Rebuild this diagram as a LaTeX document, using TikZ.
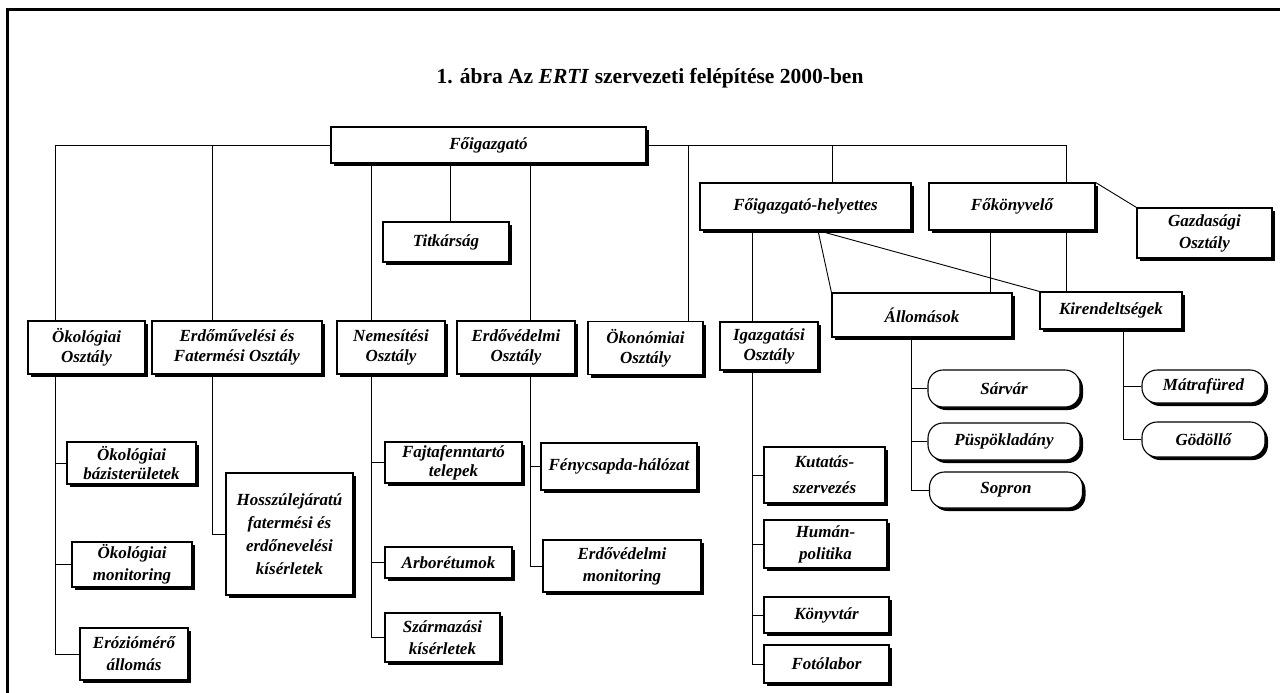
\documentclass[tikz,border=0pt]{standalone}
\usepackage{fontspec}
\setmainfont{Liberation Serif}
\usetikzlibrary{shadows}
\pgfdeclarelayer{hatter}
\pgfsetlayers{hatter,main}

\begin{document}
\begin{tikzpicture}[x=1pt, y=-1pt,
	doboz/.style={draw, fill=white, line width=1.1pt, align=center, inner sep=0pt,
		font=\bfseries\itshape\fontsize{17}{22}\selectfont,
		drop shadow={shadow xshift=3pt, shadow yshift=-3pt, fill=black, opacity=1}},
	szuk/.style={font=\bfseries\itshape\fontsize{17}{19}\selectfont},
	osztaly/.style={doboz, minimum height=53, font=\bfseries\itshape\fontsize{17}{20}\selectfont},
	kapszula/.style={doboz, rounded corners=15pt},
	vonal/.style={line width=0.9pt}
	]
	\useasboundingbox (0,0) rectangle (1280,693);
	\begin{scope}
		\clip (0,0) rectangle (1280,693);
		\draw[line width=3pt] (7,710) -- (7,10) -- (1300,10);
	\end{scope}

	\node (cim) at (650,78) {\fontsize{21.5}{24}\selectfont\bfseries 1. ábra Az \textit{ERTI} szervezeti felépítése 2000-ben};

	%Vezetés
	\node[doboz, minimum width=315, minimum height=36] (fo) at (488.5,145) {Főigazgató};
	\node[doboz, minimum width=126, minimum height=40] (titk) at (446,242) {Titkárság};
	\node[doboz, minimum width=211, minimum height=47] (fh) at (805.5,206.5) {Főigazgató-helyettes};
	\node[doboz, minimum width=166, minimum height=47] (fk) at (1012,206.5) {Főkönyvelő};
	\node[doboz, minimum width=135, minimum height=50] (gazd) at (1204.5,233) {Gazdasági\\Osztály};

	%Osztályok
	\node[osztaly, minimum width=117] (okol) at (86.5,347.5) {Ökológiai\\Osztály};
	\node[osztaly, minimum width=170] (erdm) at (237,347.5) {Erdőművelési és\\Fatermési Osztály};
	\node[osztaly, minimum width=108] (nem) at (391,347.5) {Nemesítési\\Osztály};
	\node[osztaly, minimum width=118] (erdv) at (516,347.5) {Erdővédelmi\\Osztály};
	\node[osztaly, minimum width=115] (okon) at (645.5,348) {Ökonómiai\\Osztály};
	\node[osztaly, minimum width=98, minimum height=48] (igaz) at (769,346) {Igazgatási\\Osztály};
	\node[doboz, minimum width=180, minimum height=44] (allo) at (922,315) {Állomások};
	\node[doboz, minimum width=142, minimum height=37] (kir) at (1111,310.5) {Kirendeltségek};

	%Alegységek
	\node[doboz, szuk, minimum width=129, minimum height=42] (okb) at (131.5,463) {Ökológiai\\bázisterületek};
	\node[doboz, minimum width=120, minimum height=45] (okm) at (132,564.5) {Ökológiai\\monitoring};
	\node[doboz, minimum width=108, minimum height=52] (eroz) at (134,654) {Eróziómérő\\állomás};
	\node[doboz, minimum width=127, minimum height=122, font=\bfseries\itshape\fontsize{17}{23}\selectfont] (hossz) at (289.5,534) {Hosszúlejáratú\\fatermési és\\erdőnevelési\\kísérletek};
	\node[doboz, szuk, minimum width=137, minimum height=41] (fajta) at (453.5,462.5) {Fajtafenntartó\\telepek};
	\node[doboz, minimum width=127, minimum height=31] (arbo) at (448.5,562.5) {Arborétumok};
	\node[doboz, minimum width=115, minimum height=49] (szarm) at (442.5,637.5) {Származási\\kísérletek};
	\node[doboz, minimum width=156, minimum height=47] (feny) at (619,466.5) {Fénycsapda-hálózat};
	\node[doboz, minimum width=158, minimum height=52] (edvm) at (622,566) {Erdővédelmi\\monitoring};
	\node[doboz, minimum width=121, minimum height=56, font=\bfseries\itshape\fontsize{17}{26}\selectfont] (kut) at (824.5,475) {Kutatás-\\szervezés};
	\node[doboz, minimum width=123, minimum height=48] (hum) at (825.5,544) {Humán-\\politika};
	\node[doboz, minimum width=125, minimum height=36] (konyv) at (826.5,615) {Könyvtár};
	\node[doboz, minimum width=125, minimum height=38] (foto) at (826.5,664) {Fotólabor};
	\node[kapszula, minimum width=152, minimum height=37] (sarv) at (1004,388.5) {Sárvár};
	\node[kapszula, minimum width=152, minimum height=37] (pusp) at (1004,441.5) {Püspökladány};
	\node[kapszula, minimum width=153, minimum height=36] (sopr) at (1006,490) {Sopron};
	\node[kapszula, minimum width=123, minimum height=33] (matr) at (1203.5,386.5) {Mátrafüred};
	\node[kapszula, minimum width=123, minimum height=35] (god) at (1203.5,439.5) {Gödöllő};

	%Törzsvonalak helye
	\coordinate (tOk) at (55,0);
	\coordinate (tErdm) at (212,0);
	\coordinate (tNem) at (371,0);
	\coordinate (tTit) at (450,0);
	\coordinate (tErdv) at (530,0);
	\coordinate (tOkon) at (688,0);
	\coordinate (tIg) at (752,0);
	\coordinate (tDiag) at (818,0);
	\coordinate (tFh) at (832,0);
	\coordinate (tAll) at (911,0);
	\coordinate (tAl) at (990,0);
	\coordinate (tKir) at (1066,0);
	\coordinate (tKir2) at (1123,0);

	\begin{pgfonlayer}{hatter}
		%Főigazgató vonalai
		\draw[vonal] (fo.west) -| (okol.north -| tOk);
		\draw[vonal] (fo.west -| tErdm) -- (erdm.north -| tErdm);
		\draw[vonal] (fo.south -| tNem) -- (nem.north -| tNem);
		\draw[vonal] (fo.south -| tTit) -- (titk.north -| tTit);
		\draw[vonal] (fo.south -| tErdv) -- (erdv.north -| tErdv);
		\draw[vonal] (fo.east) -| (kir.north -| tKir);
		\draw[vonal] (fo.east -| tOkon) -- (okon.north -| tOkon);
		\draw[vonal] (fo.east -| tFh) -- (fh.north -| tFh);
		%Helyettes és főkönyvelő
		\draw[vonal] (fh.south -| tIg) -- (igaz.north -| tIg);
		\draw[vonal] (fh.south -| tDiag) -- (allo.north west);
		\draw[vonal] (fh.south -| tDiag) -- (kir.north west);
		\draw[vonal] (fk.south -| tAl) -- (allo.north -| tAl);
		\draw[vonal] (fk.north east) -- (gazd.north west);
		%Ökológiai Osztály
		\draw[vonal] (okol.south -| tOk) |- (eroz.west);
		\draw[vonal] (okb.west) -- (okb.west -| tOk);
		\draw[vonal] (okm.west) -- (okm.west -| tOk);
		%Erdőművelési és Fatermési Osztály
		\draw[vonal] (erdm.south -| tErdm) |- (hossz.west);
		%Nemesítési Osztály
		\draw[vonal] (nem.south -| tNem) |- (szarm.west);
		\draw[vonal] (fajta.west) -- (fajta.west -| tNem);
		\draw[vonal] (arbo.west) -- (arbo.west -| tNem);
		%Erdővédelmi Osztály
		\draw[vonal] (erdv.south -| tErdv) |- (edvm.west);
		\draw[vonal] (feny.west) -- (feny.west -| tErdv);
		%Igazgatási Osztály
		\draw[vonal] (igaz.south -| tIg) |- (foto.west);
		\draw[vonal] (kut.west) -- (kut.west -| tIg);
		\draw[vonal] (hum.west) -- (hum.west -| tIg);
		\draw[vonal] (konyv.west) -- (konyv.west -| tIg);
		%Állomások, kirendeltségek
		\draw[vonal] (allo.south -| tAll) |- (sopr.west);
		\draw[vonal] (sarv.west) -- (sarv.west -| tAll);
		\draw[vonal] (pusp.west) -- (pusp.west -| tAll);
		\draw[vonal] (kir.south -| tKir2) |- (god.west);
		\draw[vonal] (matr.west) -- (matr.west -| tKir2);
	\end{pgfonlayer}
\end{tikzpicture}
\end{document}
